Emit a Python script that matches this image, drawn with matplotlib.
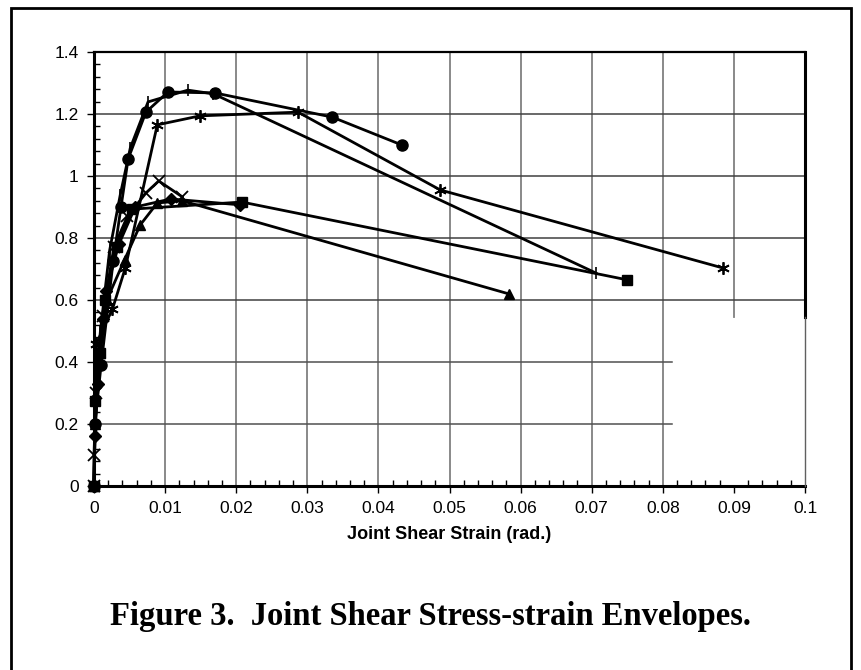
import numpy as np
from matplotlib import pyplot as plt
from matplotlib.patches import Rectangle
from matplotlib.ticker import MultipleLocator

# joint shear strain (rad.) and joint shear stress for each specimen envelope
diamond_x = [0, 0.0001, 0.0005, 0.0012, 0.0017, 0.0035, 0.0058, 0.0108, 0.0205]
diamond_y = [0, 0.16, 0.33, 0.54, 0.63, 0.78, 0.90, 0.926, 0.907]

square_x = [0, 0.0002, 0.0008, 0.0015, 0.0032, 0.0053, 0.0208, 0.075]
square_y = [0, 0.275, 0.43, 0.60, 0.77, 0.893, 0.916, 0.665]

triangle_x = [0, 0.0002, 0.0009, 0.0018, 0.0043, 0.0065, 0.0089, 0.0124, 0.0583]
triangle_y = [0, 0.20, 0.43, 0.60, 0.73, 0.842, 0.913, 0.92, 0.62]

xmark_x = [0, 0.0, 0.0003, 0.0012, 0.0028, 0.0047, 0.0073, 0.0091, 0.0124]
xmark_y = [0, 0.10, 0.30, 0.55, 0.77, 0.87, 0.945, 0.984, 0.933]

star_x = [0, 0.0003, 0.0026, 0.0044, 0.0089, 0.0149, 0.0287, 0.0487, 0.0885]
star_y = [0, 0.458, 0.571, 0.703, 1.165, 1.194, 1.206, 0.955, 0.703]

circle_x = [0, 0.0001, 0.001, 0.0027, 0.0038, 0.0048, 0.0073, 0.0104, 0.017, 0.0335, 0.0433]
circle_y = [0, 0.20, 0.39, 0.726, 0.90, 1.055, 1.206, 1.271, 1.268, 1.19, 1.10]

plus_x = [0, 0.0002, 0.0009, 0.0022, 0.0037, 0.0051, 0.0076, 0.0132, 0.0168, 0.0706]
plus_y = [0, 0.30, 0.50, 0.76, 0.94, 1.09, 1.239, 1.277, 1.265, 0.687]

xticks = np.arange(0, 0.1001, 0.01)
yticks = np.arange(0, 1.401, 0.2)

fig = plt.figure(figsize=(8.61, 6.70), dpi=100)
ax = fig.add_axes([94/861, 1-486/670, 711/861, 434/670])

# grid, partly blanked out as in the scanned original
for v in xticks[1:-1]:
    if v > 0.085:
        ax.plot([v, v], [0.545, 1.4], color='#808080', lw=1.3, zorder=0.5)
    else:
        ax.plot([v, v], [0, 1.4], color='#808080', lw=1.3, zorder=0.5)
for h in yticks[1:-1]:
    if h < 0.5:
        ax.plot([0, 0.0813], [h, h], color='#505050', lw=1.1, zorder=0.5)
    else:
        ax.plot([0, 0.1], [h, h], color='#404040', lw=1.1, zorder=0.5)

kw = dict(color='black', lw=2.0, mec='black', mfc='black', clip_on=False)
ax.plot(diamond_x, diamond_y, marker='D', ms=6, **kw)
ax.plot(square_x, square_y, marker='s', ms=7, **kw)
ax.plot(triangle_x, triangle_y, marker='^', ms=7, **kw)
ax.plot(xmark_x, xmark_y, marker='x', ms=8, mew=1.3, **kw)
ax.plot(star_x, star_y, marker=(6, 2, 0), ms=9, mew=1.3, **kw)
ax.plot(circle_x, circle_y, marker='o', ms=8, **kw)
ax.plot(plus_x, plus_y, marker='|', ms=9, mew=1.2, **kw)

ax.set_xlim(0, 0.1)
ax.set_ylim(0, 1.4)
ax.set_xticks(xticks)
ax.set_xticklabels(['0', '0.01', '0.02', '0.03', '0.04', '0.05', '0.06', '0.07', '0.08', '0.09', '0.1'])
ax.set_yticks(yticks)
ax.set_yticklabels(['0', '0.2', '0.4', '0.6', '0.8', '1', '1.2', '1.4'])
ax.xaxis.set_minor_locator(MultipleLocator(0.002))
ax.yaxis.set_minor_locator(MultipleLocator(0.04))
ax.tick_params(which='major', direction='out', length=5, width=1, labelsize=12.5, pad=6)
ax.tick_params(which='minor', direction='in', length=4, width=1)
for lab in ax.get_xticklabels() + ax.get_yticklabels():
    lab.set_family('Liberation Sans')

ax.spines['left'].set_linewidth(2.2)
ax.spines['bottom'].set_linewidth(2.2)
ax.spines['top'].set_linewidth(1.6)
ax.spines['right'].set_visible(False)
ax.plot([0.1, 0.1], [0.545, 1.4], color='black', lw=2.2, clip_on=False, zorder=3)
ax.plot([0.1, 0.1], [0, 0.545], color='#606060', lw=1.0, clip_on=False, zorder=3)

ax.set_xlabel('Joint Shear Strain (rad.)', fontsize=13, fontweight='bold',
              family='Liberation Sans', labelpad=7)

fig.text(430/861, 1-617/670, 'Figure 3.  Joint Shear Stress-strain Envelopes.',
         ha='center', va='center', fontsize=23.5, fontweight='bold', family='Liberation Serif')

fig.patches.append(Rectangle((11/861, -0.05), 840/861, 1.05-8/670, transform=fig.transFigure,
                             fill=False, ec='black', lw=2.0))

plt.savefig('out.png')
